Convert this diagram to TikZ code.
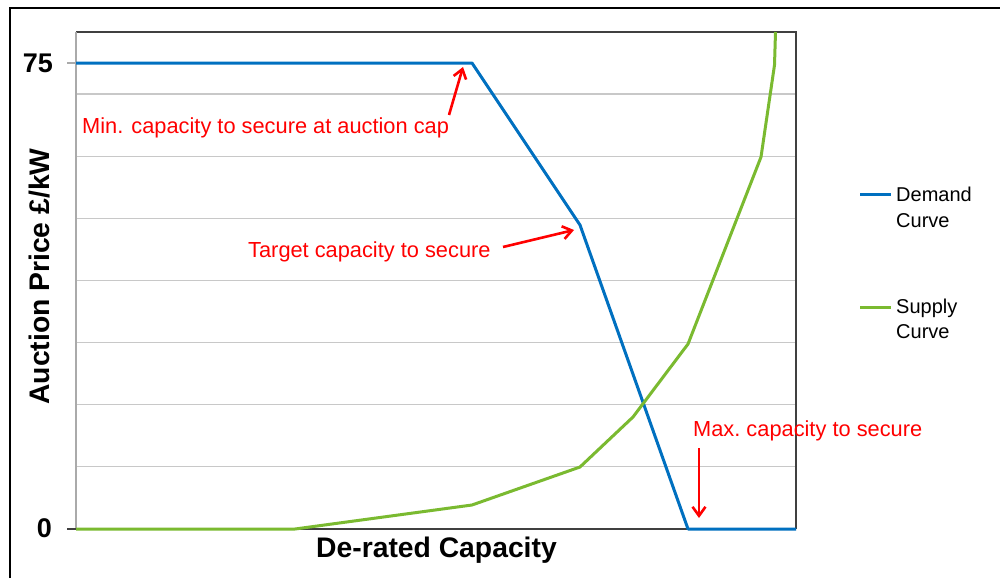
\documentclass[tikz,border=0pt]{standalone}
\usepackage{fontspec}
\setmainfont{Liberation Sans}
\usetikzlibrary{arrows.meta}
\definecolor{dblue}{RGB}{0,112,192}
\definecolor{sgreen}{RGB}{122,186,48}
\definecolor{gridgray}{RGB}{200,200,200}
\definecolor{axgray}{RGB}{64,64,64}
\definecolor{lax}{RGB}{170,170,170}
\definecolor{annred}{RGB}{255,0,0}
\begin{document}
\begin{tikzpicture}[x=1pt,y=-1pt,
  gridline/.style={draw=gridgray, line width=1.2pt},
  frameline/.style={draw=axgray, line width=1.3pt},
  curve/.style={line width=3pt, line join=round},
  annot/.style={text=annred, font=\fontsize{21.8}{26}\selectfont, inner sep=0pt, anchor=base west},
  legtext/.style={font=\fontsize{20}{25.5}\selectfont, inner sep=0pt, anchor=base west, align=left},
  ticklab/.style={font=\bfseries\fontsize{27}{30}\selectfont, inner sep=0pt, anchor=base east},
  axlab/.style={font=\bfseries\fontsize{28.3}{30}\selectfont, inner sep=0pt, anchor=base},
  annarrow/.style={draw=annred, line width=2.6pt, -{Straight Barb[length=9pt,width=13pt,line width=2.6pt]}}
]
\useasboundingbox (0,0) rectangle (1000,578);
\fill[white] (0,0) rectangle (1000,578);
% outer frame
\draw[black, line width=2pt] (10,578) -- (10,8) -- (1000,8);
% grid
\foreach \yy in {466.87,404.74,342.61,280.48,218.35,156.22,94.09}
  \draw[gridline] (76,\yy) -- (796,\yy);
% plot frame
\draw[frameline] (76,32) -- (796,32) -- (796,529);
\draw[draw=lax, line width=1.2pt] (76,32) -- (76,529);
\draw[frameline] (67,529) -- (796,529);
\draw[draw=lax, line width=1.2pt] (67,63) -- (76,63);
% demand curve
\coordinate (d0) at (76,63);
\coordinate (d1) at (472,63);
\coordinate (d2) at (580,225);
\coordinate (d3) at (688,529);
\coordinate (d4) at (796,529);
\draw[curve, dblue] (d0) -- (d1) -- (d2) -- (d3) -- (d4);
% supply curve
\coordinate (s0) at (76,529);
\coordinate (s1) at (295,529);
\coordinate (s2) at (472,505);
\coordinate (s3) at (580,467);
\coordinate (s4) at (633,417);
\coordinate (s5) at (688,344);
\coordinate (s6) at (761,157);
\coordinate (s7) at (774.5,65);
\coordinate (s8) at (775.5,32);
\draw[curve, sgreen] (s0) -- (s1) -- (s2) -- (s3) -- (s4) -- (s5) -- (s6) -- (s7) -- (s8);
% axis labels
\node[ticklab] (t75) at (53,72.5) {75};
\node[ticklab] (t0) at (52,537) {0};
\node[axlab] (xlab) at (436.5,557) {De-rated Capacity};
\node[axlab, rotate=90] (ylab) at (49,276.5) {Auction Price £/kW};
% legend
\coordinate (l1a) at (860,194.5);
\coordinate (l1b) at (891,194.5);
\coordinate (l2a) at (860,307);
\coordinate (l2b) at (891,307);
\draw[curve, dblue] (l1a) -- (l1b);
\draw[curve, sgreen] (l2a) -- (l2b);
\node[legtext] (leg1) at (896,227.3) {Demand\\Curve};
\node[legtext] (leg2) at (896,338.8) {Supply\\Curve};
% annotations
\node[annot] (minlab) at (82,133) {Min. capacity to secure at auction cap};
\node[annot] (tgtlab) at (248,257) {Target capacity to secure};
\node[annot] (maxlab) at (693,436.5) {Max.\ capacity to secure};
\coordinate (a1s) at (449,115);
\coordinate (a1e) at (463,67);
\coordinate (a2s) at (503,247);
\coordinate (a2e) at (574,230);
\coordinate (a3s) at (699,448);
\coordinate (a3e) at (699,518);
\draw[annarrow] (a1s) -- (a1e);
\draw[annarrow] (a2s) -- (a2e);
\draw[annarrow] (a3s) -- (a3e);
\end{tikzpicture}
\end{document}
